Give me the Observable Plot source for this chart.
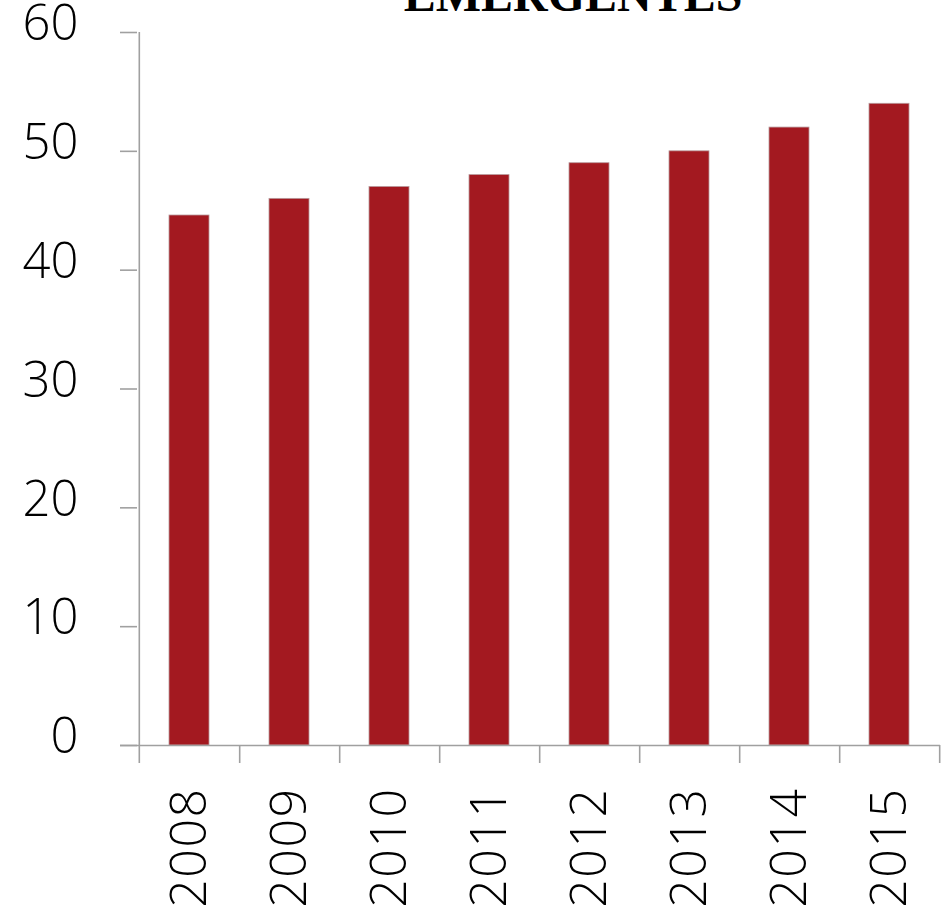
<!DOCTYPE html>
<html>
<head>
<meta charset="utf-8">
<script src="https://cdn.jsdelivr.net/npm/d3@7"></script>
<script src="https://cdn.jsdelivr.net/npm/@observablehq/plot@0.6"></script>
<style>
  html, body { margin: 0; padding: 0; background: #fff; }
  #chart { width: 944px; height: 913px; overflow: hidden; }
</style>
</head>
<body>
<div id="chart"></div>
<script>
const title = "EMERGENTES";
const years = ["2008", "2009", "2010", "2011", "2012", "2013", "2014", "2015"];
const values = [44.6, 46.0, 47.0, 48.0, 49.0, 50.0, 52.0, 54.0];
const yTicks = [0, 10, 20, 30, 40, 50, 60];

const data = years.map((year, i) => ({year, value: values[i]}));

const W = 944, H = 913;
const mL = 137, mR = 4, mT = 32, mB = 168;
const step = (W - mL - mR) / years.length;
const axisColor = "#a0a0a0";
const barColor = "#a31920";

const plot = Plot.plot({
  width: W,
  height: H,
  marginLeft: mL,
  marginRight: mR,
  marginTop: mT,
  marginBottom: mB,
  style: {fontFamily: "'Open Sans', sans-serif", background: "#fff", color: "#000"},
  x: {domain: years, paddingInner: 0.6, paddingOuter: 0.3, label: null},
  y: {domain: [0, 60], label: null},
  marks: [
    Plot.barY(data, {x: "year", y: "value", fill: barColor, stroke: "#b89a9c", strokeWidth: 0.8}),
    // y axis line
    Plot.ruleX([years[0]], {dx: -step / 2, y1: 60, y2: 0, insetBottom: -18, stroke: axisColor, strokeWidth: 1.6}),
    // category boundary ticks
    Plot.ruleX(years, {dx: step / 2, y1: 0, y2: 0, insetBottom: -18, stroke: axisColor, strokeWidth: 1.6}),
    // x axis baseline
    Plot.ruleY([0], {insetLeft: -17, stroke: axisColor, strokeWidth: 1.6}),
    // y ticks
    Plot.axisY({
      ticks: yTicks,
      tickSize: 17,
      tickFormat: () => "",
      stroke: axisColor,
      strokeWidth: 1.6,
      strokeOpacity: 1,
      label: null
    }),
    // y tick labels
    Plot.axisY({
      ticks: yTicks,
      tickSize: 0,
      tickPadding: 59,
      fontSize: 49,
      fontWeight: 350,
      fill: "#000",
      dy: -8,
      label: null
    }),
    Plot.axisX({
      tickSize: 0,
      tickRotate: -90,
      tickPadding: 42,
      fontSize: 50,
      fontWeight: 350,
      fill: "#000",
      label: null
    }),
    Plot.text([title], {
      frameAnchor: "top",
      text: d => d,
      dx: 34,
      dy: -22,
      lineAnchor: "bottom",
      fontFamily: "'Liberation Serif', 'Times New Roman', serif",
      fontWeight: "bold",
      fontSize: 48,
      fill: "#000"
    })
  ]
});

plot.querySelectorAll("g[aria-label='x-axis tick label'] text").forEach(t => t.style.letterSpacing = "1.5px");
document.getElementById("chart").appendChild(plot);
</script>
</body>
</html>
